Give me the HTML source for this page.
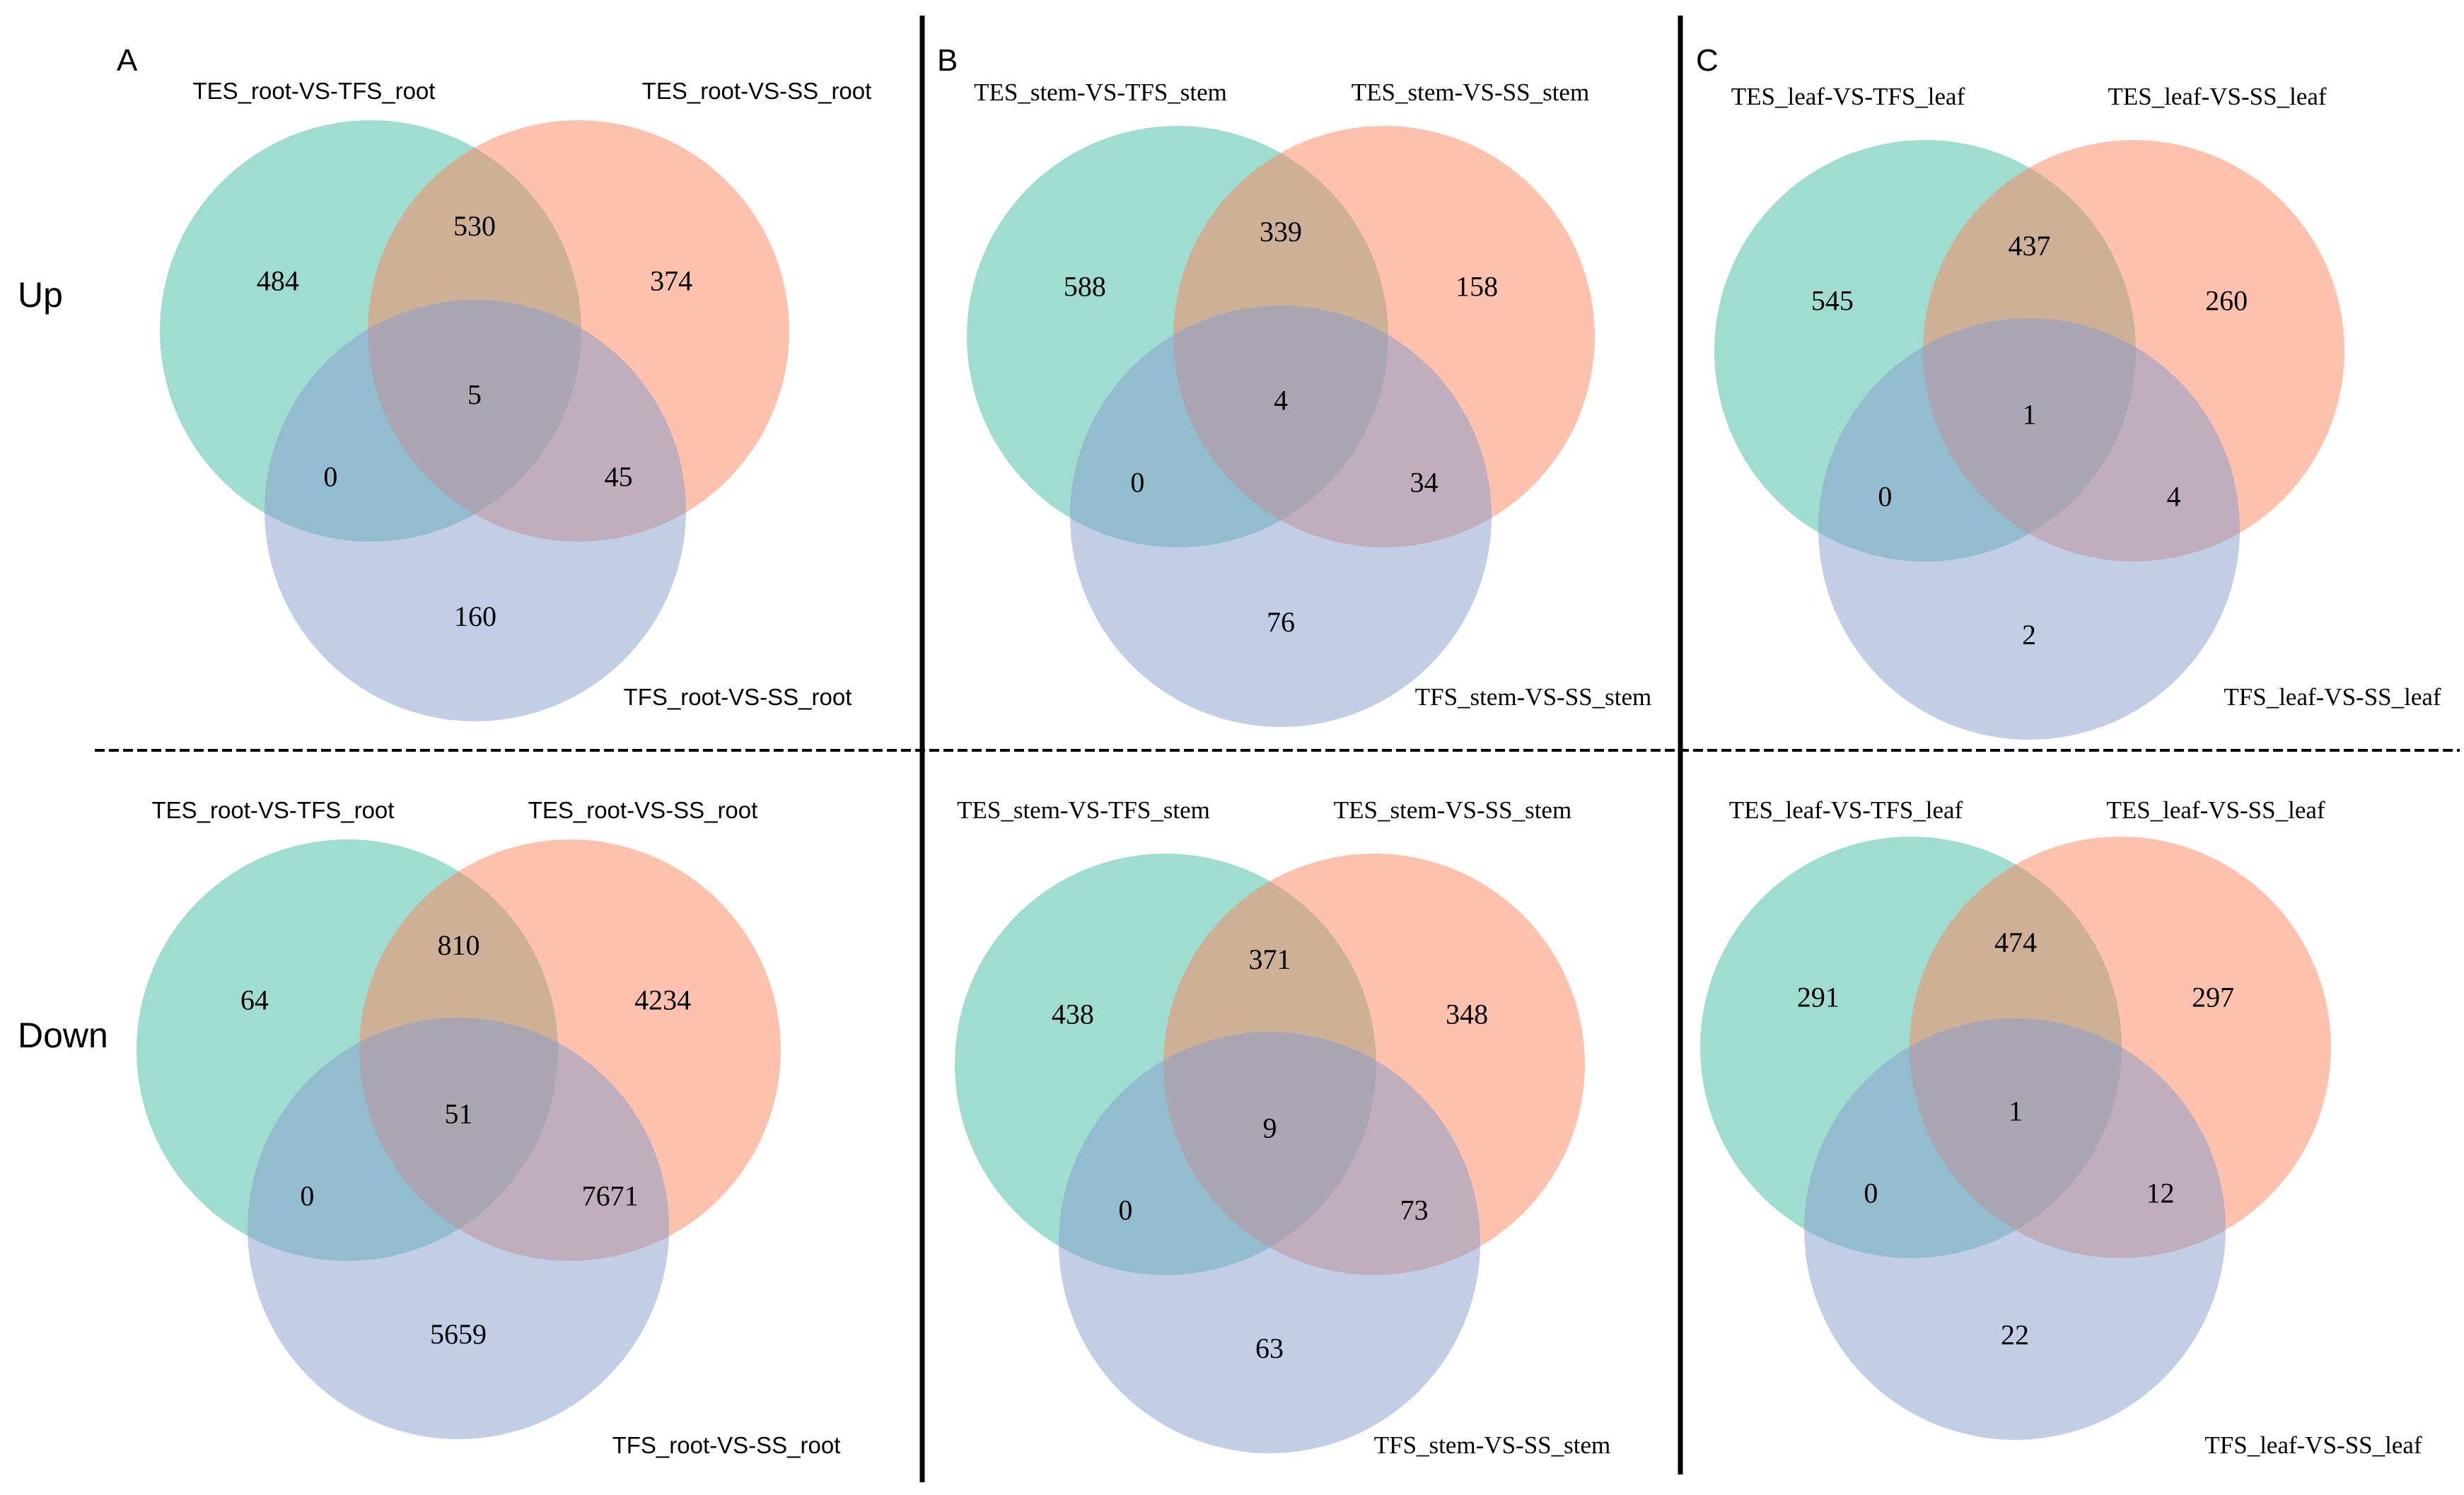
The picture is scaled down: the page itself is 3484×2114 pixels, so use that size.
<!DOCTYPE html>
<html><head><meta charset="utf-8"><style>
html,body{margin:0;padding:0;background:#fff;width:3484px;height:2114px;overflow:hidden}
svg{display:block}
</style></head><body>
<svg id="fig" xmlns="http://www.w3.org/2000/svg" width="3484" height="2114" viewBox="0 0 3484 2114">
<rect width="3484" height="2114" fill="#fff"/>
<line x1="134" y1="1061" x2="3478" y2="1061" stroke="#000" stroke-width="4" stroke-dasharray="14,6"/>
<line x1="1304" y1="22" x2="1304" y2="2096" stroke="#000" stroke-width="7"/>
<line x1="2376" y1="22" x2="2376" y2="2085" stroke="#000" stroke-width="7"/>
<text x="165" y="100" font-family="Liberation Sans, sans-serif" font-size="44">A</text>
<text x="1325" y="100" font-family="Liberation Sans, sans-serif" font-size="44">B</text>
<text x="2398" y="100" font-family="Liberation Sans, sans-serif" font-size="44">C</text>
<text x="25" y="434" font-family="Liberation Sans, sans-serif" font-size="50">Up</text>
<text x="25" y="1481" font-family="Liberation Sans, sans-serif" font-size="50">Down</text>
<g id="venns"></g>
</svg>
<script>
// counts: [greenOnly, greenOrange, orangeOnly, all, greenBlue, orangeBlue, blueOnly]
const countsAUp = [484, 530, 374, 5, 0, 45, 160];
const countsBUp = [588, 339, 158, 4, 0, 34, 76];
const countsCUp = [545, 437, 260, 1, 0, 4, 2];
const countsADown = [64, 810, 4234, 51, 0, 7671, 5659];
const countsBDown = [438, 371, 348, 9, 0, 73, 63];
const countsCDown = [291, 474, 297, 1, 0, 12, 22];
const setLabelsA = ["TES_root-VS-TFS_root", "TES_root-VS-SS_root", "TFS_root-VS-SS_root"];
const setLabelsB = ["TES_stem-VS-TFS_stem", "TES_stem-VS-SS_stem", "TFS_stem-VS-SS_stem"];
const setLabelsC = ["TES_leaf-VS-TFS_leaf", "TES_leaf-VS-SS_leaf", "TFS_leaf-VS-SS_leaf"];

const NS = "http://www.w3.org/2000/svg";
const root = document.getElementById("venns");
const R = 298;
const panels = [
  {id:"a-up", counts:countsAUp, labels:setLabelsA, g:[524,468], o:[818,468], b:[672,722], lab:[[444,140],[1070,140],[1043,997]], sans:true},
  {id:"b-up", counts:countsBUp, labels:setLabelsB, g:[1665,476], o:[1957,476], b:[1811,730], lab:[[1556,142],[2079,142],[2168,997]], sans:false},
  {id:"c-up", counts:countsCUp, labels:setLabelsC, g:[2722,496], o:[3017,496], b:[2869,748], lab:[[2613,148],[3135,148],[3298,997]], sans:false},
  {id:"a-down", counts:countsADown, labels:setLabelsA, g:[491,1485], o:[806,1485], b:[648,1737], lab:[[386,1157],[909,1157],[1027,2055]], sans:true},
  {id:"b-down", counts:countsBDown, labels:setLabelsB, g:[1648,1505], o:[1943,1505], b:[1795,1757], lab:[[1532,1157],[2054,1157],[2110,2055]], sans:false},
  {id:"c-down", counts:countsCDown, labels:setLabelsC, g:[2702,1481], o:[2998,1481], b:[2849,1738], lab:[[2610,1157],[3133,1157],[3271,2055]], sans:false}
];
const fills = ["rgb(65,187,163)", "rgb(251,131,91)", "rgb(133,155,205)"];
const circNames = ["circle-set1", "circle-set2", "circle-set3"];
panels.forEach(p => {
  const grp = document.createElementNS(NS, "g");
  
  
  root.appendChild(grp);
  [p.g, p.o, p.b].forEach((c, i) => {
    const ci = document.createElementNS(NS, "circle");
    ci.setAttribute("cx", c[0]); ci.setAttribute("cy", c[1]); ci.setAttribute("r", R);
    ci.setAttribute("fill", fills[i]); ci.setAttribute("fill-opacity", "0.5");
    
    
    grp.appendChild(ci);
  });
  const mx = (p.g[0] + p.o[0]) / 2;
  const pos = [
    [p.g[0] - 0.44*R, p.g[1] - 0.24*R],
    [mx, p.g[1] - 0.5*R],
    [p.o[0] + 0.44*R, p.o[1] - 0.24*R],
    [mx, p.g[1] + 0.3*R],
    [p.g[0] - 0.19*R, p.g[1] + 0.69*R],
    [p.o[0] + 0.19*R, p.o[1] + 0.69*R],
    [p.b[0], p.b[1] + 0.5*R]
  ];
  p.counts.forEach((v, i) => {
    const t = document.createElementNS(NS, "text");
    t.setAttribute("x", pos[i][0]); t.setAttribute("y", pos[i][1] + 14);
    t.setAttribute("text-anchor", "middle");
    t.setAttribute("font-family", "Liberation Serif, serif");
    t.setAttribute("font-size", "40");
    t.textContent = v;
    
    
    grp.appendChild(t);
  });
  p.labels.forEach((s, i) => {
    const t = document.createElementNS(NS, "text");
    t.setAttribute("x", p.lab[i][0]); t.setAttribute("y", p.lab[i][1]);
    t.setAttribute("text-anchor", "middle");
    t.setAttribute("font-family", p.sans ? "Liberation Sans, sans-serif" : "Liberation Serif, serif");
    t.setAttribute("font-size", p.sans ? "33" : "35");
    t.textContent = s;
    
    
    grp.appendChild(t);
  });
});
</script>
</body></html>
